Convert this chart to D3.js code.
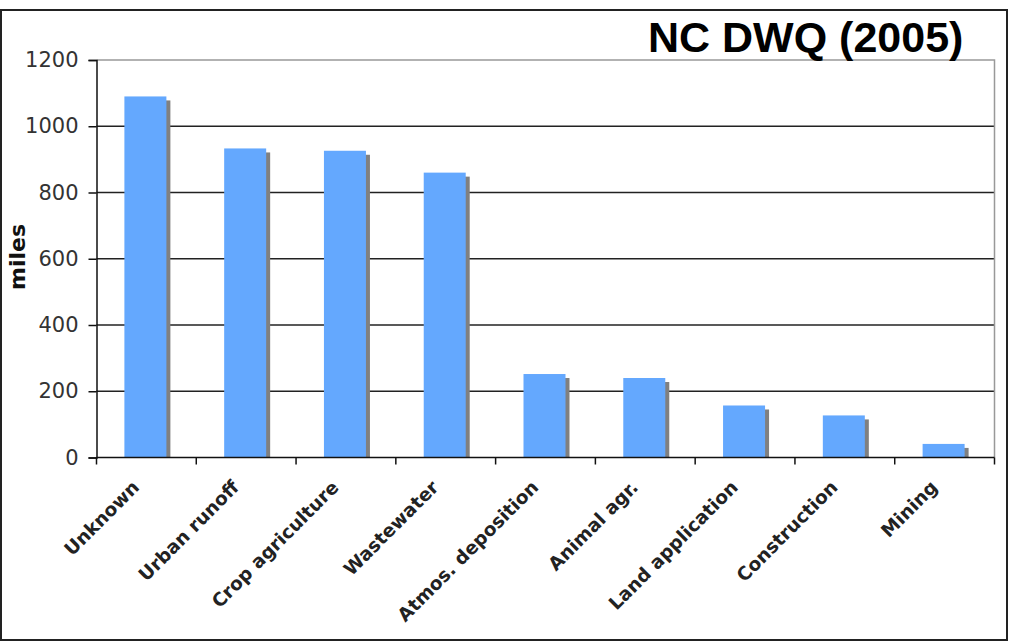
<!DOCTYPE html>
<html>
<head>
<meta charset="utf-8">
<script src="https://cdn.jsdelivr.net/npm/d3@7/dist/d3.min.js"></script>
<style>
  html, body { margin: 0; padding: 0; background: #fff; }
  svg { display: block; }
</style>
</head>
<body>
<svg id="chart" width="1009" height="642"></svg>
<script>
// Impaired stream miles by probable source
const categories = ["Unknown", "Urban runoff", "Crop agriculture", "Wastewater",
  "Atmos. deposition", "Animal agr.", "Land application", "Construction", "Mining"];
const miles = [1090, 933, 926, 860, 252, 240, 157, 127, 41];
const yTicks = [0, 200, 400, 600, 800, 1000, 1200];
const title = "NC DWQ (2005)";
const yTitle = "miles";

const svg = d3.select("#chart");
const W = 1009, H = 642;
const plot = { left: 96.5, right: 994.5, top: 60, bottom: 457.5 };

svg.append("rect").attr("width", W).attr("height", H).attr("fill", "#fff");

// outer frame
svg.append("rect")
  .attr("x", 1).attr("y", 10).attr("width", 1006).attr("height", 630)
  .attr("fill", "none").attr("stroke", "#222").attr("stroke-width", 2);

const x = d3.scaleBand().domain(categories).range([plot.left, plot.right]);
const y = d3.scaleLinear().domain([0, 1200]).range([plot.bottom, plot.top]);

// gridlines
svg.append("g").selectAll("line")
  .data(yTicks.filter(t => t > 0 && t < 1200))
  .join("line")
  .attr("x1", plot.left).attr("x2", plot.right)
  .attr("y1", d => y(d)).attr("y2", d => y(d))
  .attr("stroke", "#222").attr("stroke-width", 1.5);

// plot area border (top and right)
svg.append("path")
  .attr("d", `M${plot.left},${plot.top}H${plot.right}V${plot.bottom}`)
  .attr("fill", "none").attr("stroke", "#999").attr("stroke-width", 1.5);

// bars with drop shadow
const barW = 42, shadow = 4;
const bars = svg.append("g");
bars.selectAll("rect.shadow")
  .data(categories)
  .join("rect")
  .attr("class", "shadow")
  .attr("x", (d) => x(d) + x.bandwidth() / 2 - 22 + shadow)
  .attr("y", (d, i) => y(miles[i]) + shadow)
  .attr("width", barW)
  .attr("height", (d, i) => Math.max(0, plot.bottom - y(miles[i]) - shadow))
  .attr("fill", "#808080");
bars.selectAll("rect.bar")
  .data(categories)
  .join("rect")
  .attr("class", "bar")
  .attr("x", (d) => x(d) + x.bandwidth() / 2 - 22)
  .attr("y", (d, i) => y(miles[i]))
  .attr("width", barW)
  .attr("height", (d, i) => plot.bottom - y(miles[i]))
  .attr("fill", "#64a8fe");

// y axis
const yAxis = svg.append("g")
  .attr("transform", `translate(${plot.left},0)`)
  .call(d3.axisLeft(y).tickValues(yTicks).tickSize(8).tickPadding(10).tickFormat(d3.format("d")));
yAxis.select(".domain").attr("stroke", "#111").attr("stroke-width", 1.5);
yAxis.selectAll(".tick line").attr("stroke", "#111").attr("stroke-width", 1.5);
yAxis.selectAll(".tick text")
  .attr("font-family", "'DejaVu Sans', Verdana, sans-serif")
  .attr("font-size", 21).attr("fill", "#333");

// x axis: ticks at band boundaries
const bounds = categories.map(c => x(c)).concat([plot.right]);
const xAxis = svg.append("g");
xAxis.append("line")
  .attr("x1", plot.left).attr("x2", plot.right)
  .attr("y1", plot.bottom).attr("y2", plot.bottom)
  .attr("stroke", "#111").attr("stroke-width", 1.5);
xAxis.selectAll("line.tick")
  .data(bounds)
  .join("line")
  .attr("class", "tick")
  .attr("x1", d => d).attr("x2", d => d)
  .attr("y1", plot.bottom).attr("y2", plot.bottom + 7)
  .attr("stroke", "#111").attr("stroke-width", 1.5);
xAxis.selectAll("text")
  .data(categories)
  .join("text")
  .attr("transform", d => `translate(${x(d) + x.bandwidth() / 2 - 6},${plot.bottom + 31}) rotate(-45)`)
  .attr("text-anchor", "end")
  .attr("font-family", "'DejaVu Sans', Verdana, sans-serif")
  .attr("font-weight", "bold")
  .attr("font-size", 18.5)
  .attr("fill", "#222")
  .text(d => d);

// axis title
svg.append("text")
  .attr("transform", `translate(25,257) rotate(-90)`)
  .attr("text-anchor", "middle")
  .attr("font-family", "'DejaVu Sans', Verdana, sans-serif")
  .attr("font-weight", "bold")
  .attr("font-size", 22)
  .attr("fill", "#111")
  .text(yTitle);

// title
svg.append("text")
  .attr("x", 648).attr("y", 52)
  .attr("font-family", "'Liberation Sans', Arial, sans-serif")
  .attr("font-weight", "bold")
  .attr("font-size", 43)
  .attr("fill", "#000")
  .text(title);
</script>
</body>
</html>
